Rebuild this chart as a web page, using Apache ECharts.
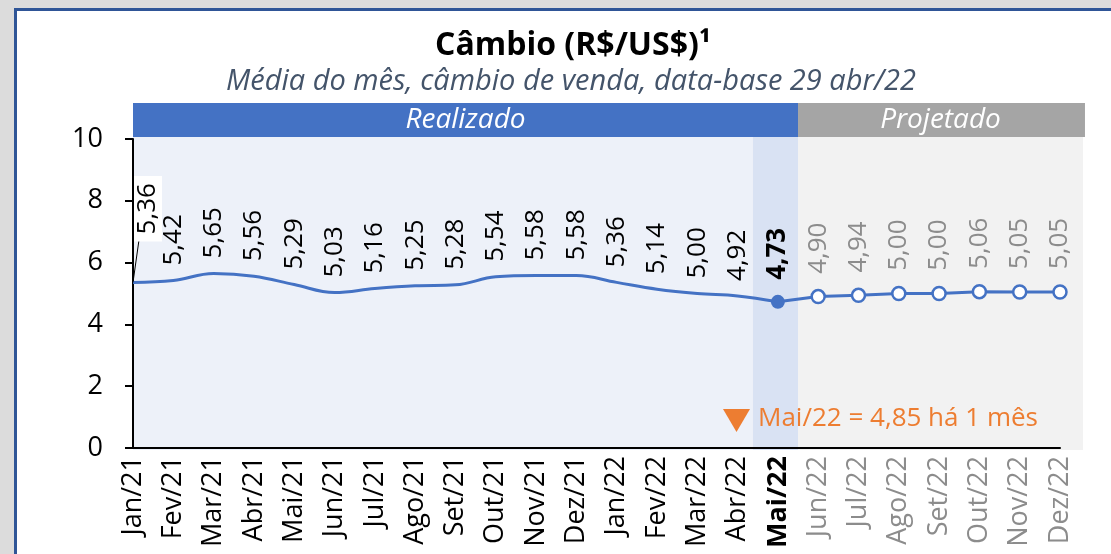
<!DOCTYPE html>
<html>
<head>
<meta charset="utf-8">
<script src="https://cdn.jsdelivr.net/npm/echarts@6/dist/echarts.min.js"></script>
<style>
  html, body { margin: 0; padding: 0; background: #dcdcdc; }
  #chart { width: 1111px; height: 554px; }
</style>
</head>
<body>
<div id="chart"></div>
<script>
// monthly average exchange rate, R$/US$
const months = ['Jan/21', 'Fev/21', 'Mar/21', 'Abr/21', 'Mai/21', 'Jun/21', 'Jul/21', 'Ago/21',
  'Set/21', 'Out/21', 'Nov/21', 'Dez/21', 'Jan/22', 'Fev/22', 'Mar/22', 'Abr/22', 'Mai/22',
  'Jun/22', 'Jul/22', 'Ago/22', 'Set/22', 'Out/22', 'Nov/22', 'Dez/22']
const realized = [5.36, 5.42, 5.65, 5.56, 5.29, 5.03, 5.16, 5.25, 5.28, 5.54, 5.58, 5.58,
  5.36, 5.14, 5.00, 4.92, 4.73]
const projected = [4.90, 4.94, 5.00, 5.00, 5.06, 5.05, 5.05]
const yMin = 0
const yMax = 10
const yStep = 2
const monthAgoValue = 4.85

const lastReal = realized.length - 1
const font = '"Open Sans", sans-serif'
const fmt = v => Number(v).toFixed(2).replace('.', ',')

const realizedData = realized.map((v, i) => {
  if (i === 0) {
    // first label sits higher, boxed, with a leader line
    return {
      value: v,
      label: { position: [15, -41], backgroundColor: '#fff', padding: [2, 7], lineHeight: 24 },
      labelLine: { show: true }
    }
  }
  if (i === lastReal) {
    return { value: v, symbolSize: 14, label: { fontWeight: 'bold' } }
  }
  return v
})

const projectedData = months.map((m, i) => {
  if (i < lastReal) return '-'
  if (i === lastReal) return { value: realized[lastReal], symbol: 'none', label: { show: false } }
  return projected[i - lastReal - 1]
})

function renderBackground (params, api) {
  const step = api.size([1, 0])[0]
  const p0 = api.coord([0, yMin])
  const yTop = api.coord([0, yMax])[1]
  const xSplit = api.coord([lastReal, yMin])[0]
  const xEnd = api.coord([months.length - 1, yMin])[0]
  const hiL = xSplit - step * 0.62
  const hiR = xSplit + step * 0.5
  const endR = xEnd + step * 0.57
  const top = yTop - 2
  const bottom = p0[1] + 2
  const barTop = yTop - 36
  const barH = 34
  const label = (text, x) => ({
    type: 'text',
    style: {
      text, x, y: barTop + barH / 2, align: 'center', verticalAlign: 'middle',
      fill: '#fff', fontSize: 28, fontStyle: 'italic', fontFamily: font
    }
  })
  return {
    type: 'group',
    children: [
      { type: 'rect', shape: { x: p0[0], y: top, width: hiL - p0[0], height: bottom - top }, style: { fill: '#EDF1F9' } },
      { type: 'rect', shape: { x: hiL, y: top, width: hiR - hiL, height: bottom - top }, style: { fill: '#D9E2F3' } },
      { type: 'rect', shape: { x: hiR, y: top, width: endR - hiR, height: bottom - top }, style: { fill: '#F2F2F2' } },
      { type: 'rect', shape: { x: p0[0], y: barTop, width: hiR - p0[0], height: barH }, style: { fill: '#4472C4' } },
      { type: 'rect', shape: { x: hiR, y: barTop, width: endR + 2 - hiR, height: barH }, style: { fill: '#A5A5A5' } },
      label('Realizado', (p0[0] + hiR) / 2),
      label('Projetado', (hiR + endR) / 2)
    ]
  }
}

const chart = echarts.init(document.getElementById('chart'))
chart.setOption({
  backgroundColor: '#dcdcdc',
  animation: false,
  textStyle: { fontFamily: font },
  grid: { left: 133, right: 51, top: 139, bottom: 106 },
  graphic: [
    { type: 'rect', z: 0, shape: { x: 15.5, y: 9.5, width: 1200, height: 600 },
      style: { fill: '#fff', stroke: '#2F5597', lineWidth: 3 } },
    { type: 'text', z: 10, style: { text: 'Câmbio (R$/US$)¹', x: 573, y: 46, align: 'center', verticalAlign: 'middle',
      fontSize: 32, fontWeight: 'bold', fontFamily: font, fill: '#000' } },
    { type: 'text', z: 10, style: { text: 'Média do mês, câmbio de venda, data-base 29 abr/22', x: 571, y: 82,
      align: 'center', verticalAlign: 'middle', fontSize: 29, fontStyle: 'italic', fontFamily: font, fill: '#44546A' } },
    { type: 'polygon', z: 10, shape: { points: [[723, 409], [750, 409], [736.5, 432]] }, style: { fill: '#ED7D31' } },
    { type: 'text', z: 10, style: { text: 'Mai/22 = ' + fmt(monthAgoValue) + ' há 1 mês', x: 758, y: 419,
      align: 'left', verticalAlign: 'middle', fontSize: 26, fontFamily: font, fill: '#ED7D31' } }
  ],
  xAxis: {
    type: 'category',
    data: months,
    boundaryGap: false,
    z: 5,
    axisLine: { lineStyle: { color: '#000', width: 2 } },
    axisTick: { show: false },
    axisLabel: {
      rotate: 90,
      margin: 8,
      fontSize: 27,
      fontFamily: font,
      interval: 0,
      formatter: (v, i) => i === lastReal ? '{b|' + v + '}' : (i > lastReal ? '{g|' + v + '}' : v),
      color: '#000',
      rich: {
        b: { fontWeight: 'bold', fontSize: 27, color: '#000', fontFamily: font },
        g: { fontSize: 27, color: '#8C8C8C', fontFamily: font }
      }
    }
  },
  yAxis: {
    type: 'value',
    min: yMin,
    max: yMax,
    interval: yStep,
    z: 5,
    axisLine: { show: true, lineStyle: { color: '#000', width: 2 } },
    axisTick: { show: true, length: 8, lineStyle: { color: '#000', width: 2 } },
    axisLabel: { fontSize: 27, color: '#000', margin: 30, fontFamily: font },
    splitLine: { show: false }
  },
  series: [
    {
      type: 'custom',
      z: 1,
      silent: true,
      clip: false,
      renderItem: renderBackground,
      data: [[0, 0]]
    },
    {
      type: 'line',
      z: 6,
      data: projectedData,
      smooth: false,
      symbol: 'circle',
      symbolSize: 13,
      lineStyle: { color: '#4472C4', width: 3 },
      itemStyle: { color: '#fff', borderColor: '#4472C4', borderWidth: 2.5 },
      label: {
        show: true, position: 'top', distance: 15, rotate: 90, align: 'left', verticalAlign: 'middle',
        fontSize: 26, color: '#8C8C8C', fontFamily: font, formatter: p => fmt(p.value)
      }
    },
    {
      type: 'line',
      z: 7,
      data: realizedData,
      smooth: 0.4,
      symbol: 'circle',
      symbolSize: 0,
      lineStyle: { color: '#4472C4', width: 3 },
      itemStyle: { color: '#4472C4' },
      labelLine: { show: false, lineStyle: { color: '#000', width: 1 } },
      label: {
        show: true, position: 'top', distance: 15, rotate: 90, align: 'left', verticalAlign: 'middle',
        fontSize: 26, color: '#000', fontFamily: font, formatter: p => fmt(p.value)
      }
    }
  ]
})
</script>
</body>
</html>
